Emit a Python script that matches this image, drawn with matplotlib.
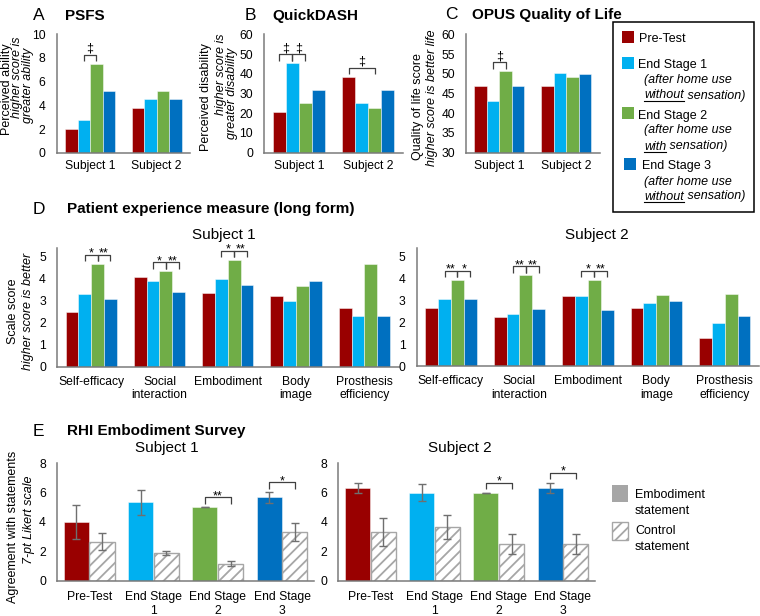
import numpy as np
import matplotlib
matplotlib.use("Agg")
import matplotlib.pyplot as plt
from matplotlib.patches import Rectangle

plt.rcParams['font.family'] = ['Liberation Sans', 'DejaVu Sans']
plt.rcParams['hatch.linewidth'] = 1.3
plt.rcParams['hatch.color'] = '#A6A6A6'

###
# Data
###

stages = ['Pre-Test', 'End Stage 1', 'End Stage 2', 'End Stage 3']
stage_colors = ['#990000', '#00B0F0', '#70AD47', '#0070C0']
subjects = ['Subject 1', 'Subject 2']

# A - PSFS, one list per subject, values per stage
psfs_s1 = [2.0, 2.75, 7.5, 5.25]
psfs_s2 = [3.75, 4.5, 5.25, 4.5]
psfs_sig = [(0, 1, 2, '‡')]          # (subject, stage a, stage b, mark)

# B - QuickDASH
qdash_s1 = [20.4, 45.4, 25.0, 31.8]
qdash_s2 = [38.6, 25.0, 22.7, 31.8]
qdash_sig = [(0, 0, 1, '‡'), (0, 1, 2, '‡'), (1, 0, 2, '‡')]

# C - OPUS quality of life
opus_s1 = [46.9, 43.2, 50.7, 46.9]
opus_s2 = [46.9, 50.2, 49.3, 49.9]
opus_sig = [(0, 1, 2, '‡')]

# D - patient experience measure, rows = stages
pem_cats = ['Self-efficacy', 'Social\ninteraction', 'Embodiment', 'Body\nimage',
            'Prosthesis\nefficiency']
pem_s1 = [[2.48, 4.08, 3.36, 3.20, 2.65],
          [3.29, 3.88, 3.97, 2.98, 2.32],
          [4.68, 4.35, 4.86, 3.68, 4.65],
          [3.09, 3.38, 3.73, 3.89, 2.32]]
pem_s2 = [[2.67, 2.23, 3.22, 2.67, 1.31],
          [3.06, 2.41, 3.22, 2.87, 1.97],
          [3.96, 4.15, 3.96, 3.26, 3.29],
          [3.06, 2.61, 2.59, 2.97, 2.30]]
# (category, mark ES1 vs ES2, mark ES2 vs ES3)
pem_sig_s1 = [(0, '*', '**'), (1, '*', '**'), (2, '*', '**')]
pem_sig_s2 = [(0, '**', '*'), (1, '**', '**'), (2, '*', '**')]

# E - RHI embodiment survey
rhi_cats = ['Pre-Test', 'End Stage\n1', 'End Stage\n2', 'End Stage\n3']
rhi_emb_s1 = [4.0, 5.33, 5.0, 5.67]
rhi_emb_err_s1 = [1.15, 0.88, 0.0, 0.35]
rhi_ctrl_s1 = [2.67, 1.87, 1.17, 3.33]
rhi_ctrl_err_s1 = [0.55, 0.13, 0.16, 0.62]
rhi_emb_s2 = [6.33, 6.0, 6.0, 6.33]
rhi_emb_err_s2 = [0.33, 0.6, 0.0, 0.35]
rhi_ctrl_s2 = [3.33, 3.67, 2.5, 2.5]
rhi_ctrl_err_s2 = [0.96, 0.84, 0.68, 0.68]
rhi_sig_s1 = [(2, '**'), (3, '*')]
rhi_sig_s2 = [(2, '*'), (3, '*')]

###
# Figure helpers
###

W, H = 760, 616
fig = plt.figure(figsize=(W / 100, H / 100), dpi=100)

AXIS_GRAY = '#7a7a7a'
TICK_FS = 8.7
LAB_FS = 9
BAR_W = 0.1875


def px_axes(l, t, r, b):
    # axes box given in pixels from the top-left corner
    return fig.add_axes([l / W, 1 - b / H, (r - l) / W, (b - t) / H])


def style(ax, ylim, yticks):
    for s in ['top', 'right']:
        ax.spines[s].set_visible(False)
    for s in ['left', 'bottom']:
        ax.spines[s].set_color(AXIS_GRAY)
        ax.spines[s].set_linewidth(1.1)
    ax.set_ylim(*ylim)
    ax.set_yticks(yticks)
    ax.tick_params(axis='y', length=0, pad=8, labelsize=TICK_FS)
    ax.tick_params(axis='x', length=0, pad=5.5, labelsize=TICK_FS)
    ax.set_facecolor('none')


def ppu(ax):
    lo, hi = ax.get_ylim()
    return ax.bbox.height / (hi - lo)


def bracket(ax, base, marks, lift=9, leg=6.5):
    # marks: list of (xa, xb, text) sharing the same top line
    k = ppu(ax)
    top = base + lift / k
    for xa, xb, txt in marks:
        ax.plot([xa, xa, xb, xb], [top - leg / k, top, top, top - leg / k],
                color='#404040', lw=0.9, clip_on=False, solid_capstyle='butt')
        dy = 3 if '‡' in txt else -2
        ax.text((xa + xb) / 2, top + dy / k, txt, ha='center', va='baseline',
                fontsize=9, clip_on=False)


def grouped(ax, cats, data):
    data = np.asarray(data)
    x = np.arange(len(cats))
    for i, (vals, c) in enumerate(zip(data, stage_colors)):
        ax.bar(x + (i - 1.5) * BAR_W, vals, BAR_W, color=c,
               edgecolor=(1, 1, 1, 0.55), linewidth=0.6)
    ax.set_xticks(x, cats, linespacing=1.15)
    ax.set_xlim(-0.5, len(cats) - 0.5)
    return data


def stage_x(cat, stage):
    return cat + (stage - 1.5) * BAR_W


def small_panel(box, s1, s2, sig, ylim, yticks):
    ax = px_axes(*box)
    data = grouped(ax, subjects, np.array([s1, s2]).T)
    style(ax, ylim, yticks)
    for subj in range(2):
        items = [s for s in sig if s[0] == subj]
        if not items:
            continue
        lo = min(min(a, b) for _, a, b, _ in items)
        hi = max(max(a, b) for _, a, b, _ in items)
        base = data[lo:hi + 1, subj].max()
        bracket(ax, base,
                [(stage_x(subj, a), stage_x(subj, b), t) for _, a, b, t in items])
    return ax


###
# A, B, C
###

small_panel((56.7, 34.3, 190, 152.7), psfs_s1, psfs_s2, psfs_sig,
            (0, 10), range(0, 11, 2))
small_panel((264.3, 34.3, 402.7, 152.7), qdash_s1, qdash_s2, qdash_sig,
            (0, 60), range(0, 61, 10))
small_panel((466, 34.3, 599.6, 152.7), opus_s1, opus_s2, opus_sig,
            (30, 60), range(30, 61, 5))

###
# D
###

for box, vals, sig in [((57, 248, 398.5, 366.7), pem_s1, pem_sig_s1),
                       ((416.7, 248, 759, 366.3), pem_s2, pem_sig_s2)]:
    ax = px_axes(*box)
    data = grouped(ax, pem_cats, vals)
    style(ax, (0, 5.4), range(0, 6))
    ax.tick_params(axis='x', pad=6.5)
    for cat, t1, t2 in sig:
        base = data[1:4, cat].max()
        bracket(ax, base, [(stage_x(cat, 1), stage_x(cat, 2), t1),
                           (stage_x(cat, 2), stage_x(cat, 3), t2)])

###
# E
###

rhi_sets = [((57, 463.3, 314.2, 580.7), rhi_emb_s1, rhi_emb_err_s1,
             rhi_ctrl_s1, rhi_ctrl_err_s1, rhi_sig_s1),
            ((338.3, 463.3, 595.1, 580.7), rhi_emb_s2, rhi_emb_err_s2,
             rhi_ctrl_s2, rhi_ctrl_err_s2, rhi_sig_s2)]
for box, emb, emb_err, ctrl, ctrl_err, sig in rhi_sets:
    ax = px_axes(*box)
    x = np.arange(len(rhi_cats))
    ekw = dict(ecolor='#6f6f6f', elinewidth=1.0, capsize=3, capthick=1.0)
    ax.bar(x - 0.2, emb, 0.39, color=stage_colors, edgecolor=(1, 1, 1, 0.55),
           linewidth=0.6, yerr=emb_err, error_kw=ekw)
    ax.bar(x + 0.2, ctrl, 0.39, color='white', edgecolor='#A6A6A6', hatch='///',
           linewidth=1.0, yerr=ctrl_err, error_kw=ekw)
    ax.set_xticks(x, rhi_cats, linespacing=1.2)
    ax.set_xlim(-0.5, len(rhi_cats) - 0.5)
    style(ax, (0, 8), range(0, 9, 2))
    ax.tick_params(axis='x', pad=7.5)
    for cat, t in sig:
        base = max(emb[cat] + emb_err[cat], ctrl[cat] + ctrl_err[cat])
        bracket(ax, base, [(cat - 0.2, cat + 0.2, t)], lift=10)

###
# Overlay: titles, axis labels, legends (pixel coordinates)
###

ov = fig.add_axes([0, 0, 1, 1])
ov.set_xlim(0, W)
ov.set_ylim(H, 0)
ov.axis('off')

for x, y, letter in [(33, 20, 'A'), (245, 20, 'B'), (445, 19, 'C'),
                     (33, 214, 'D'), (33, 436, 'E')]:
    ov.text(x, y, letter, fontsize=12.5, va='baseline', ha='left')
for x, y, title in [(65, 20, 'PSFS'), (272, 20, 'QuickDASH'),
                    (472, 19, 'OPUS Quality of Life'),
                    (67, 213, 'Patient experience measure (long form)'),
                    (67, 435, 'RHI Embodiment Survey')]:
    ov.text(x, y, title, fontsize=11, fontweight='bold', va='baseline', ha='left')

for x, y, t in [(223.5, 238.5, 'Subject 1'), (596.5, 238.5, 'Subject 2'),
                (166.7, 452, 'Subject 1'), (460, 452, 'Subject 2')]:
    ov.text(x, y, t, fontsize=11, ha='center', va='baseline')

ylabels = [(7, 89, 'Perceived ability', 'normal'),
           (17.5, 77.5, 'higher score is', 'italic'),
           (28, 85.5, 'greater ability', 'italic'),
           (205.5, 97, 'Perceived disability', 'normal'),
           (221, 74, 'higher score is', 'italic'),
           (232, 93, 'greater disability', 'italic'),
           (418, 107, 'Quality of life score', 'normal'),
           (432, 98, 'higher score is better life', 'italic'),
           (13, 311, 'Scale score', 'normal'),
           (28, 311, 'higher score is better', 'italic'),
           (13, 527, 'Agreement with statements', 'normal'),
           (29, 520, '7-pt Likert scale', 'italic')]
for x, y, t, st in ylabels:
    ov.text(x, y, t, rotation=90, ha='center', va='center', fontsize=LAB_FS,
            fontstyle=st)

# stage legend
ov.add_patch(Rectangle((613, 22), 141, 190, facecolor='white', edgecolor='black',
                       lw=1.1))
leg_sq = [(622, 31), (622, 57), (622, 107), (623.5, 158)]
leg_head = [(639, 41.5), (638.5, 68), (638.5, 118.5), (642, 169.5)]
leg_sub = [None, (83.5, 98.5, 'without'), (133.5, 149.5, 'with'),
           (184.5, 199.5, 'without')]
for i, name in enumerate(stages):
    ov.add_patch(Rectangle(leg_sq[i], 12, 12, facecolor=stage_colors[i],
                           edgecolor='none'))
    ov.text(*leg_head[i], name, fontsize=9, va='baseline', ha='left')

fig.canvas.draw()
inv = ov.transData.inverted()
for sub in leg_sub:
    if sub is None:
        continue
    y1, y2, word = sub
    ov.text(644, y1, '(after home use', fontsize=9, fontstyle='italic',
            va='baseline', ha='left')
    t = ov.text(644, y2, word, fontsize=9, fontstyle='italic', va='baseline',
                ha='left')
    fig.canvas.draw()
    bb = t.get_window_extent()
    x0 = inv.transform((bb.x0, bb.y0))[0]
    x1 = inv.transform((bb.x1, bb.y0))[0]
    ov.plot([x0, x1], [y2 + 2, y2 + 2], color='black', lw=0.8)
    ov.text(x1, y2, ' sensation)', fontsize=9, fontstyle='italic',
            va='baseline', ha='left')

# embodiment / control legend
ov.add_patch(Rectangle((611.7, 485), 16.3, 17, facecolor='#A6A6A6',
                       edgecolor='none'))
ov.add_patch(Rectangle((612, 522), 16, 18, facecolor='white', edgecolor='#A6A6A6',
                       hatch='///', lw=1.0))
for y, t in [(497.5, 'Embodiment'), (513.5, 'statement'), (534.5, 'Control'),
             (550.5, 'statement')]:
    ov.text(635, y, t, fontsize=9, va='baseline', ha='left')

fig.savefig('out.png', dpi=100)
